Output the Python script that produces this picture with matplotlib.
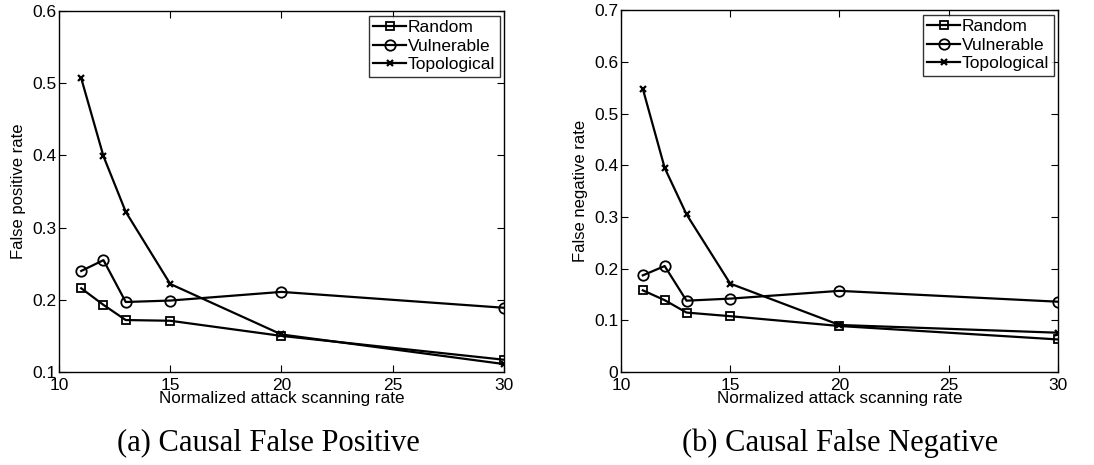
import matplotlib
matplotlib.use("Agg")
import matplotlib.pyplot as plt
from matplotlib.ticker import FuncFormatter, MultipleLocator

# ------------------------------------------------------
# Data
# ------------------------------------------------------
scan_rate = [11, 12, 13, 15, 20, 30]
series_names = ["Random", "Vulnerable", "Topological"]

fp_random = [0.216, 0.193, 0.172, 0.171, 0.150, 0.117]
fp_vulnerable = [0.240, 0.255, 0.197, 0.199, 0.211, 0.189]
fp_topological = [0.507, 0.399, 0.322, 0.222, 0.152, 0.111]

fn_random = [0.158, 0.139, 0.115, 0.108, 0.089, 0.063]
fn_vulnerable = [0.187, 0.205, 0.138, 0.142, 0.157, 0.136]
fn_topological = [0.548, 0.395, 0.305, 0.171, 0.091, 0.076]

plt.rcParams['font.family'] = ['Liberation Sans', 'DejaVu Sans']

styles = [
    dict(marker='s', markersize=5.5, mfc='none', mew=1.3),
    dict(marker='o', markersize=7.5, mfc='none', mew=1.3),
    dict(marker='x', markersize=4.5, mew=1.6),
]


def draw_panel(ax, series, ylim, ylabel):
    for name, vals, st in zip(series_names, series, styles):
        ax.plot(scan_rate, vals, color='black', linewidth=1.6,
                mec='black', label=name, **st)
    ax.set_xlim(10, 30)
    ax.set_ylim(*ylim)
    ax.xaxis.set_major_locator(MultipleLocator(5))
    ax.yaxis.set_major_locator(MultipleLocator(0.1))
    ax.yaxis.set_major_formatter(
        FuncFormatter(lambda v, p: '0' if abs(v) < 1e-9 else f'{v:.1f}'))
    ax.tick_params(direction='in', length=5, width=0.8, labelsize=12.5,
                   top=True, right=True, pad=2)
    ax.tick_params(axis='x', pad=4)
    ax.set_xlabel('Normalized attack scanning rate', fontsize=12.3, labelpad=-1)
    ax.set_ylabel(ylabel, fontsize=12, labelpad=4)
    for sp in ax.spines.values():
        sp.set_linewidth(1.0)
    leg = ax.legend(loc='upper right', fontsize=12.5, frameon=True,
                    fancybox=False, handlelength=1.9, handletextpad=0.1,
                    borderpad=0.25, labelspacing=0.2, borderaxespad=0.25)
    leg.get_frame().set_edgecolor('black')
    leg.get_frame().set_linewidth(1.0)


fig = plt.figure(figsize=(10.94, 4.65), dpi=100)
ax1 = fig.add_axes([0.0539, 0.2, 0.4068, 0.776])
ax2 = fig.add_axes([0.5676, 0.2, 0.3995, 0.778])

draw_panel(ax1, [fp_random, fp_vulnerable, fp_topological], (0.1, 0.6),
           'False positive rate')
draw_panel(ax2, [fn_random, fn_vulnerable, fn_topological], (0.0, 0.7),
           'False negative rate')

fig.text(268 / 1094, 1 - 443 / 465, '(a) Causal False Positive',
         ha='center', va='center', fontsize=22, family='Liberation Serif')
fig.text(840 / 1094, 1 - 443 / 465, '(b) Causal False Negative',
         ha='center', va='center', fontsize=22, family='Liberation Serif')

fig.savefig('out.png', dpi=100)
